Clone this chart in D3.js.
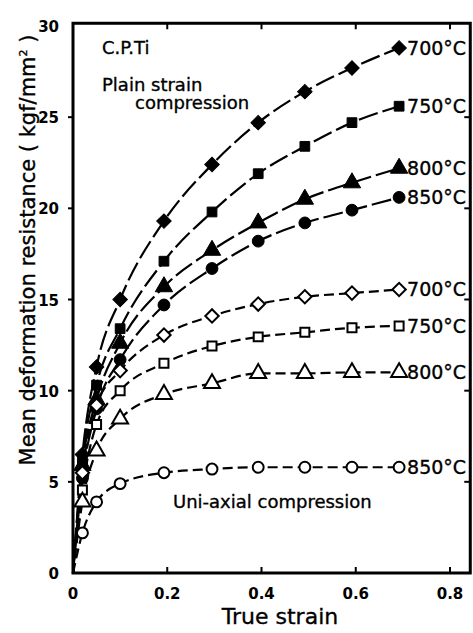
<!DOCTYPE html>
<html><head><meta charset="utf-8">
<script src="https://cdn.jsdelivr.net/npm/d3@7"></script>
<style>body{margin:0;background:#fff}svg{display:block}</style>
</head><body>
<svg id="c" width="473" height="633"></svg>
<script>
const strain = [0.02, 0.05, 0.1, 0.193, 0.295, 0.393, 0.492, 0.592, 0.692];
const ps700 = [6.5, 11.3, 15.0, 19.3, 22.4, 24.7, 26.4, 27.7, 28.8];
const ps750 = [6.2, 10.3, 13.4, 17.1, 19.8, 21.9, 23.4, 24.7, 25.6];
const ps800 = [5.9, 9.5, 12.6, 15.7, 17.7, 19.2, 20.5, 21.4, 22.2];
const ps850 = [5.2, 9.0, 11.7, 14.7, 16.7, 18.2, 19.2, 19.9, 20.6];
const ua700 = [5.5, 9.2, 11.1, 13.05, 14.1, 14.75, 15.15, 15.35, 15.55];
const ua750 = [4.55, 8.15, 10.0, 11.5, 12.45, 12.95, 13.2, 13.45, 13.55];
const ua800 = [3.9, 6.7, 8.45, 9.8, 10.4, 10.95, 10.95, 11.0, 11.0];
const ua850 = [2.2, 3.9, 4.9, 5.5, 5.7, 5.8, 5.8, 5.8, 5.8];
const labels = ["700°C", "750°C", "800°C", "850°C", "700°C", "750°C", "800°C", "850°C"];
const xTicks = [0, 0.2, 0.4, 0.6, 0.8];
const yTicks = [0, 5, 10, 15, 20, 25, 30];

const series = [
  {v: ps700, sym: "diamond", fill: true, group: "ps"},
  {v: ps750, sym: "square", fill: true, group: "ps"},
  {v: ps800, sym: "triangle", fill: true, group: "ps"},
  {v: ps850, sym: "circle", fill: true, group: "ps"},
  {v: ua700, sym: "diamond", fill: false, group: "ua"},
  {v: ua750, sym: "square", fill: false, group: "ua"},
  {v: ua800, sym: "triangle", fill: false, group: "ua"},
  {v: ua850, sym: "circle", fill: false, group: "ua"}
];
const symType = {diamond: d3.symbolSquare, square: d3.symbolSquare, triangle: d3.symbolTriangle, circle: d3.symbolCircle};
const symSize = {diamond: 105, square: 95, triangle: 130, circle: 110};
const symRot = {diamond: 45, square: 0, triangle: 0, circle: 0};

const svg = d3.select("#c");
const x = d3.scaleLinear().domain([0, 0.8]).range([73, 450]);
const y = d3.scaleLinear().domain([0, 30]).range([573, 26]);
const font = "'DejaVu Sans', sans-serif";

// lines
const line = d3.line().x(d => x(d[0])).y(d => y(d[1])).curve(d3.curveMonotoneX);
series.forEach(s => {
  const pts = [[0, 0]].concat(strain.map((t, i) => [t, s.v[i]]));
  svg.append("path").attr("d", line(pts)).attr("fill", "none").attr("stroke", "#000")
    .attr("stroke-width", 2.2)
    .attr("stroke-dasharray", s.group === "ps" ? "20,5" : "10,5");
});

// markers
series.forEach(s => {
  svg.selectAll(null).data(strain.map((t, i) => [t, s.v[i]])).enter().append("path")
    .attr("transform", d => `translate(${x(d[0])},${y(d[1])}) rotate(${symRot[s.sym]})`)
    .attr("d", d3.symbol().type(symType[s.sym]).size(symSize[s.sym] * (s.fill ? 1 : 0.85))())
    .attr("fill", s.fill ? "#000" : "#fff")
    .attr("stroke", "#000").attr("stroke-width", s.fill ? 1 : 2);
});

// frame
svg.append("rect")
  .attr("x", x(0)).attr("y", y(30.15))
  .attr("width", x(0.843) - x(0)).attr("height", y(0) - y(30.15))
  .attr("fill", "none").attr("stroke", "#000").attr("stroke-width", 3);

// ticks
const tl = 6;
xTicks.slice(1).forEach(t => {
  svg.append("line").attr("x1", x(t)).attr("x2", x(t)).attr("y1", y(0)).attr("y2", y(0) - tl).attr("stroke", "#000").attr("stroke-width", 2);
  svg.append("line").attr("x1", x(t)).attr("x2", x(t)).attr("y1", y(30.15)).attr("y2", y(30.15) + tl).attr("stroke", "#000").attr("stroke-width", 2);
});
yTicks.slice(1, -1).forEach(t => {
  svg.append("line").attr("x1", x(0)).attr("x2", x(0) - 5).attr("y1", y(t)).attr("y2", y(t)).attr("stroke", "#000").attr("stroke-width", 2);
  svg.append("line").attr("x1", x(0.843)).attr("x2", x(0.843) - tl).attr("y1", y(t)).attr("y2", y(t)).attr("stroke", "#000").attr("stroke-width", 2);
});

// tick labels
svg.selectAll(".xt").data(xTicks).enter().append("text")
  .attr("x", d => x(d)).attr("y", y(0) + 26)
  .attr("text-anchor", "middle").attr("font-family", font).attr("font-weight", "bold")
  .attr("font-size", 15).text(d => d === 0 ? "0" : d3.format(".1f")(d));
svg.selectAll(".yt").data(yTicks).enter().append("text")
  .attr("x", x(0) - 14).attr("y", d => y(d) + 6)
  .attr("text-anchor", "end").attr("font-family", font).attr("font-weight", "bold")
  .attr("font-size", 15).text(d => d);

const txt = sel => sel.attr("font-family", font).attr("stroke", "#000").attr("stroke-width", 0.35);

// axis titles
svg.append("text").attr("x", 280).attr("y", 624).attr("text-anchor", "middle")
  .call(txt).attr("font-size", 22).text("True strain");
const yl = svg.append("text").attr("transform", "translate(35,250) rotate(-90)")
  .attr("text-anchor", "middle").call(txt).attr("font-size", 21);
yl.append("tspan").text("Mean deformation resistance ( kgf/mm");
yl.append("tspan").attr("dy", -8).attr("font-size", 11).text("2");
yl.append("tspan").attr("dy", 8).text(" )");

// end labels
series.forEach((s, i) => {
  const last = s.v[s.v.length - 1];
  svg.append("text").attr("x", x(strain[strain.length - 1]) + 8).attr("y", y(last) + 7)
    .call(txt).attr("font-size", 19).text(labels[i]);
});

// annotations
svg.append("text").attr("x", 102).attr("y", 54).call(txt).attr("font-size", 18).text("C.P.Ti");
svg.append("text").attr("x", 102).attr("y", 91).call(txt).attr("font-size", 18).text("Plain strain");
svg.append("text").attr("x", 135).attr("y", 109).call(txt).attr("font-size", 18).text("compression");
svg.append("text").attr("x", 173).attr("y", 508).call(txt).attr("font-size", 18).text("Uni-axial compression");
</script>
</body></html>
